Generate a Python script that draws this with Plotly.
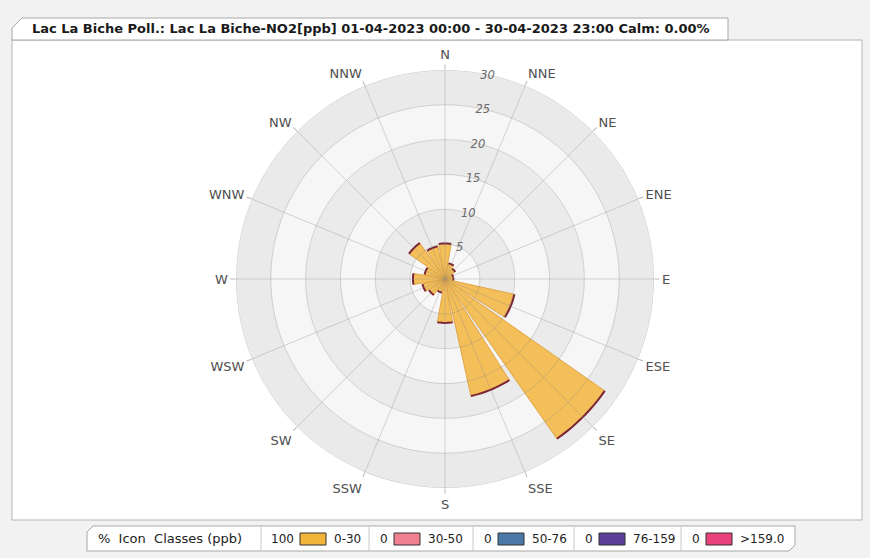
import numpy as np
import plotly.graph_objects as go

# Wind direction sectors and NO2 frequency (% of hours, class 0-30 ppb)
directions = ["N", "NNE", "NE", "ENE", "E", "ESE", "SE", "SSE",
              "S", "SSW", "SW", "WSW", "W", "WNW", "NW", "NNW"]
angles = [i * 22.5 for i in range(16)]
freq_0_30 = [5.1, 2.3, 1.8, 1.2, 1.2, 10.2, 28.0, 17.2,
             6.3, 2.0, 2.8, 3.3, 4.6, 3.0, 6.3, 4.8]

radial_ticks = [5, 10, 15, 20, 25, 30]

# Concentration classes shown in the footer key
class_labels = ["0-30", "30-50", "50-76", "76-159", ">159.0"]
class_pcts = ["100", "0", "0", "0", "0"]
class_colors = ["#F2B43A", "#F0808F", "#4A78A6", "#5A3E98", "#E8417C"]

W, H = 870, 558


def px(x):
    return x / W


def py(y):
    return 1 - y / H


fig = go.Figure()

# alternating background rings
band_base = [0, 5, 10, 15, 20, 25]
band_colors = ["#f8f8f8", "#ebebeb", "#f6f6f6", "#ebebeb", "#f6f6f6", "#eaeaea"]
for b, c in zip(band_base, band_colors):
    fig.add_trace(go.Barpolar(r=[5], base=[b], theta=[0], width=[360],
                              marker=dict(color=c, line=dict(width=0)),
                              hoverinfo="skip", showlegend=False))

# wind rose petals
fig.add_trace(go.Barpolar(
    r=freq_0_30, theta=angles, width=[20] * 16,
    marker=dict(color="#F4BE58", line=dict(color="#D99A35", width=0.8)),
    showlegend=False, name="0-30",
))

# dark outer edge on each petal
arc_t, arc_r = [], []
for a, v in zip(angles, freq_0_30):
    t = np.linspace(a - 10, a + 10, 12)
    arc_t += list(t) + [None]
    arc_r += [v] * len(t) + [None]
fig.add_trace(go.Scatterpolar(r=arc_r, theta=arc_t, mode="lines",
                              line=dict(color="#7A2436", width=2),
                              connectgaps=False, hoverinfo="skip",
                              showlegend=False))

# grid drawn over the rings and petals
grid_t, grid_r = [], []
circ = list(np.linspace(0, 360, 181))
for rt in radial_ticks:
    grid_t += circ + [None]
    grid_r += [rt] * len(circ) + [None]
for a in angles:
    grid_t += [a, a, None]
    grid_r += [0, radial_ticks[-1], None]
fig.add_trace(go.Scatterpolar(r=grid_r, theta=grid_t, mode="lines",
                              line=dict(color="rgba(140,140,140,0.34)", width=1),
                              connectgaps=False, hoverinfo="skip",
                              showlegend=False))

cx, cy, rad = 445, 279, 209
fig.update_layout(
    width=W, height=H,
    margin=dict(l=0, r=0, t=0, b=0),
    paper_bgcolor="#f2f2f2",
    plot_bgcolor="#f2f2f2",
    showlegend=False,
    polar=dict(
        domain=dict(x=[px(cx - rad), px(cx + rad)], y=[py(cy + rad), py(cy - rad)]),
        bgcolor="rgba(0,0,0,0)",
        barmode="overlay",
        angularaxis=dict(
            direction="clockwise", rotation=90,
            tickmode="array", tickvals=angles, ticktext=directions,
            showline=False, showgrid=False,
            ticks="outside", ticklen=5, tickcolor="#b8b8b8",
            tickfont=dict(family="DejaVu Sans", size=13, color="#505050"),
        ),
        radialaxis=dict(
            range=[0, 30], tickvals=radial_ticks,
            angle=82, tickangle=82,
            showline=False, ticks="", showgrid=False,
            tickfont=dict(family="DejaVu Sans", size=11.5, color="#6a6a6a",
                          style="italic"),
        ),
    ),
)

shapes = []
# main panel
shapes.append(dict(type="rect", xref="paper", yref="paper",
                   x0=px(12), x1=px(862), y0=py(520), y1=py(40),
                   fillcolor="white", line=dict(color="#b4b4b4", width=1),
                   layer="below"))
# title tab
tab = (f"M {px(12)} {py(40)} L {px(12)} {py(28)} L {px(22)} {py(18)} "
       f"L {px(728)} {py(18)} L {px(728)} {py(40)} Z")
shapes.append(dict(type="path", xref="paper", yref="paper", path=tab,
                   fillcolor="white", line=dict(color="#a8a8a8", width=1),
                   layer="below"))
# footer key box
key = (f"M {px(87)} {py(551)} L {px(87)} {py(532)} L {px(93)} {py(526)} "
       f"L {px(795)} {py(526)} L {px(795)} {py(545)} L {px(789)} {py(551)} Z")
shapes.append(dict(type="path", xref="paper", yref="paper", path=key,
                   fillcolor="white", line=dict(color="#a8a8a8", width=1)))
sep_x = [261, 369, 473, 574, 681]
for sx in sep_x:
    shapes.append(dict(type="line", xref="paper", yref="paper",
                       x0=px(sx), x1=px(sx), y0=py(550), y1=py(527),
                       line=dict(color="#c8c8c8", width=1)))

annotations = [dict(
    x=px(30), y=py(29), xref="paper", yref="paper", xanchor="left",
    yanchor="middle", showarrow=False,
    text="<b>Lac La Biche Poll.: Lac La Biche-NO2[ppb] 01-04-2023 00:00 - 30-04-2023 23:00 Calm: 0.00%</b>",
    font=dict(family="DejaVu Sans", size=13.0, color="#1a1a1a"),
)]
key_font = dict(family="DejaVu Sans", size=12, color="#222222")
annotations.append(dict(
    x=px(96), y=py(538.5), xref="paper", yref="paper", xanchor="left",
    yanchor="middle", showarrow=False, text="%  Icon  Classes (ppb)",
    font=dict(family="DejaVu Sans", size=13, color="#222222")))

for i, (lab, pct, col) in enumerate(zip(class_labels, class_pcts, class_colors)):
    left = sep_x[i]
    sw0 = left + (39 if i == 0 else 25)
    annotations.append(dict(
        x=px(sw0 - 4), y=py(538.5), xref="paper", yref="paper", xanchor="right",
        yanchor="middle", showarrow=False, text=pct, font=key_font))
    shapes.append(dict(type="rect", xref="paper", yref="paper",
                       x0=px(sw0), x1=px(sw0 + 26), y0=py(545), y1=py(533),
                       fillcolor=col, line=dict(color="#333333", width=1)))
    annotations.append(dict(
        x=px(sw0 + 32), y=py(538.5), xref="paper", yref="paper", xanchor="left",
        yanchor="middle", showarrow=False, text=lab, font=key_font))

fig.update_layout(shapes=shapes, annotations=annotations)
fig.write_html("out.html")
